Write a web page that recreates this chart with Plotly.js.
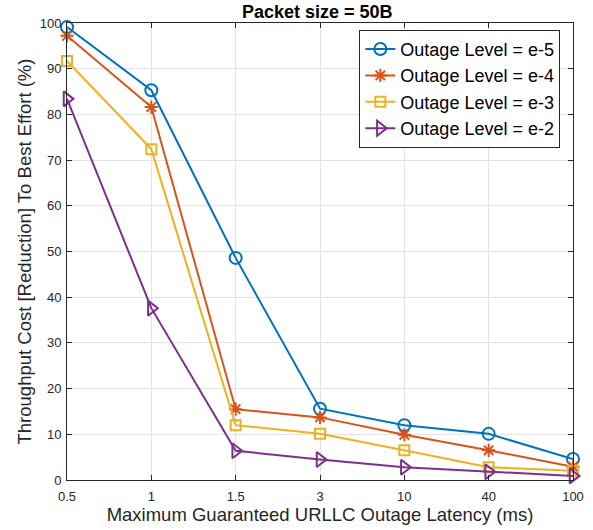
<!DOCTYPE html>
<html>
<head>
<meta charset="utf-8">
<script src="https://cdn.plot.ly/plotly-3.0.1.min.js"></script>
<style>html,body{margin:0;padding:0;background:#fff;}#chart{width:593px;height:530px;}</style>
</head>
<body>
<div id="chart"></div>
<script>
const categories = ["0.5", "1", "1.5", "3", "10", "40", "100"];
const seriesNames = ["Outage Level = e-5", "Outage Level = e-4", "Outage Level = e-3", "Outage Level = e-2"];
const e5 = [99.1, 85.3, 48.6, 15.6, 12.0, 10.1, 4.6];
const e4 = [97.2, 81.6, 15.5, 13.7, 9.9, 6.5, 2.9];
const e3 = [91.7, 72.4, 12.0, 10.1, 6.5, 2.8, 2.0];
const e2 = [83.4, 37.6, 6.4, 4.5, 2.8, 1.8, 0.9];
const yTicks = [0, 10, 20, 30, 40, 50, 60, 70, 80, 90, 100];

const colors = ["#0072BD", "#D95319", "#EDB120", "#7E2F8E"];
const symbols = ["circle-open", "asterisk-open", "square-open", "triangle-right-open"];
const sizes = [12, 11, 10, 13];
const allSeries = [e5, e4, e3, e2];
const FONT = "Liberation Sans, Arial, Helvetica, sans-serif";

const traces = allSeries.map((vals, i) => ({
  x: categories,
  y: vals,
  name: seriesNames[i],
  type: "scatter",
  mode: "lines+markers",
  cliponaxis: false,
  line: {color: colors[i], width: 2},
  marker: {symbol: symbols[i], size: sizes[i], color: colors[i], line: {color: colors[i], width: 2}}
}));

const axisCommon = {
  showline: true,
  linecolor: "#262626",
  linewidth: 1,
  mirror: "ticks",
  ticks: "inside",
  ticklen: 5,
  tickcolor: "#262626",
  showgrid: true,
  gridcolor: "#e3e3e3",
  gridwidth: 1,
  zeroline: false,
  tickfont: {family: FONT, size: 13, color: "#262626"}
};

const layout = {
  width: 593,
  height: 530,
  margin: {l: 67, r: 20, t: 23, b: 50},
  paper_bgcolor: "#ffffff",
  plot_bgcolor: "#ffffff",
  font: {family: FONT, color: "#262626"},
  title: {
    text: "<b>Packet size = 50B</b>",
    font: {family: FONT, size: 18, color: "#000000"},
    x: 0.535, xanchor: "center", y: 0.977, yanchor: "middle"
  },
  xaxis: Object.assign({}, axisCommon, {
    type: "category",
    range: [0, categories.length - 1],
    tickvals: categories,
    ticktext: categories,
    ticklabelstandoff: 4,
    title: {text: "Maximum Guaranteed URLLC Outage Latency (ms)", font: {family: FONT, size: 18.5, color: "#262626"}, standoff: 4}
  }),
  yaxis: Object.assign({}, axisCommon, {
    range: [0, 100],
    tickvals: yTicks,
    ticktext: yTicks.map(String),
    ticklabelstandoff: 2,
    title: {text: "Throughput Cost [Reduction] To Best Effort (%)", font: {family: FONT, size: 18.5, color: "#262626"}, standoff: 3}
  }),
  legend: {
    x: 0.975, xanchor: "right",
    y: 0.985, yanchor: "top",
    bgcolor: "#ffffff",
    bordercolor: "#262626",
    borderwidth: 1,
    font: {family: FONT, size: 18, color: "#000000"},
    tracegroupgap: 0
  },
  showlegend: true
};

Plotly.newPlot("chart", traces, layout, {displayModeBar: false, staticPlot: true});
</script>
</body>
</html>
